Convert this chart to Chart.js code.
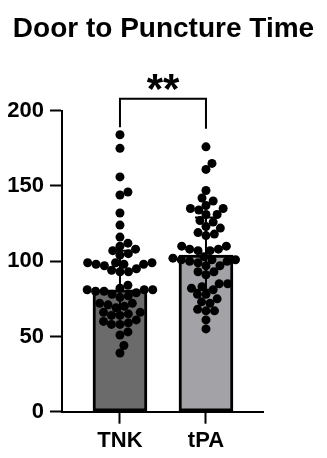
<!DOCTYPE html>
<html>
<head>
<meta charset="utf-8">
<script src="https://cdn.jsdelivr.net/npm/chart.js@4.4.1/dist/chart.umd.min.js"></script>
<style>
  html, body { margin: 0; padding: 0; background: #fff; }
</style>
</head>
<body>
<canvas id="chart" width="327" height="458"></canvas>
<script>
const categories = ['TNK', 'tPA'];
const barValues = [81, 104];   // median
const errLow = [65, 81];       // 25th percentile
const errHigh = [107, 129];    // 75th percentile
const yTicks = [0, 50, 100, 150, 200];
const sigLabel = '**';

const tnkPoints = [184, 175, 156, 146, 144, 132, 124, 116, 112, 110, 108, 107, 105, 104,
  99, 99, 98, 98, 99, 97, 98, 95, 94, 93, 93, 84, 82, 81, 81, 80, 81, 80, 79, 78, 77, 76,
  71, 72, 70, 72, 69, 64, 66, 66, 65, 64, 58, 58, 60, 61, 59, 53, 51, 44, 39];
const tpaPoints = [176, 165, 161, 147, 142, 140, 137, 135, 135, 134, 131, 131, 127, 126,
  123, 122, 119, 118, 117, 110, 110, 108, 108, 107, 107, 103, 102, 101, 100, 97, 97, 101,
  100, 99, 101, 93, 91, 93, 85, 85, 83, 81, 82, 78, 78, 75, 72, 73, 68, 67, 67, 61, 55];

const FONT = '"Liberation Sans", Arial, sans-serif';

// lay the dots out as a beeswarm around the category centre
function swarm(values, center, xScale, yScale, diameter) {
  const placed = [];
  const cx = xScale.getPixelForValue(center);
  return values.slice().sort((a, b) => a - b).map(v => {
    const py = yScale.getPixelForValue(v);
    const cands = [0];
    placed.forEach(p => {
      const dy = Math.abs(p.py - py);
      if (dy < diameter) {
        const dx = Math.sqrt(diameter * diameter - dy * dy);
        cands.push(p.dx + dx, p.dx - dx);
      }
    });
    cands.sort((a, b) => Math.abs(a) - Math.abs(b));
    const best = cands.find(c =>
      placed.every(p => (p.dx - c) ** 2 + (p.py - py) ** 2 >= diameter * diameter - 0.01));
    placed.push({ dx: best, py });
    return { x: xScale.getValueForPixel(cx + best), y: v };
  });
}

const errorBarPlugin = {
  id: 'errorBars',
  beforeDatasetDraw(chart, args) {
    if (args.index !== 1) return;
    const { ctx, scales: { x, y } } = chart;
    ctx.save();
    ctx.strokeStyle = '#000';
    ctx.lineWidth = 2;
    categories.forEach((c, i) => {
      const px = x.getPixelForValue(i);
      const top = y.getPixelForValue(errHigh[i]);
      const bot = y.getPixelForValue(errLow[i]);
      ctx.beginPath();
      ctx.moveTo(px, top); ctx.lineTo(px, bot);
      ctx.moveTo(px - 11, top); ctx.lineTo(px + 11, top);
      ctx.moveTo(px - 11, bot); ctx.lineTo(px + 11, bot);
      ctx.stroke();
    });
    ctx.restore();
  }
};

const sigPlugin = {
  id: 'sig',
  afterDraw(chart) {
    const { ctx, scales: { x, y } } = chart;
    const x0 = x.getPixelForValue(0), x1 = x.getPixelForValue(1);
    const yTop = y.getPixelForValue(208);
    const yLeft = y.getPixelForValue(189);
    const yRight = y.getPixelForValue(188);
    ctx.save();
    ctx.strokeStyle = '#000';
    ctx.lineWidth = 2;
    ctx.beginPath();
    ctx.moveTo(x0, yLeft); ctx.lineTo(x0, yTop); ctx.lineTo(x1, yTop); ctx.lineTo(x1, yRight);
    ctx.stroke();
    ctx.fillStyle = '#000';
    ctx.font = 'bold 42px ' + FONT;
    ctx.textAlign = 'center';
    ctx.textBaseline = 'alphabetic';
    ctx.fillText(sigLabel, (x0 + x1) / 2, yTop + 4);
    ctx.restore();
  }
};

const axisGrid = { drawOnChartArea: false, offset: false, tickLength: 12, tickColor: '#000', tickWidth: 2 };
const axisBorder = { color: '#000', width: 2 };

const chart = new Chart(document.getElementById('chart'), {
  type: 'bar',
  data: {
    datasets: [
      {
        type: 'bar',
        order: 2,
        data: categories.map((c, i) => ({ x: i, y: barValues[i] })),
        backgroundColor: ['#6b6b6b', '#a3a3a7'],
        borderColor: '#000',
        borderWidth: 3,
        borderSkipped: false,
        barThickness: 54
      },
      {
        type: 'scatter',
        order: 1,
        data: [],
        pointRadius: 4.5,
        pointHoverRadius: 4.5,
        backgroundColor: '#000',
        borderWidth: 0
      }
    ]
  },
  options: {
    responsive: false,
    animation: false,
    devicePixelRatio: 1,
    layout: { padding: 0 },
    plugins: {
      legend: { display: false },
      tooltip: { enabled: false },
      title: {
        display: true,
        text: 'Door to Puncture Time',
        color: '#000',
        font: { family: FONT, size: 28, weight: 'bold' },
        padding: { top: 12.2, bottom: 64.9 }
      }
    },
    scales: {
      x: {
        type: 'linear',
        offset: false,
        min: -0.674,
        max: 1.663,
        afterBuildTicks: (s) => { s.ticks = categories.map((c, i) => ({ value: i })); },
        ticks: {
          callback: (v) => categories[v],
          color: '#000',
          font: { family: FONT, size: 22, weight: 'bold' },
          padding: 4,
          autoSkip: false,
          maxRotation: 0
        },
        grid: axisGrid,
        border: axisBorder,
        afterFit: (s) => { s.height = 46.3; }
      },
      y: {
        min: 0,
        max: 200,
        afterBuildTicks: (s) => { s.ticks = yTicks.map(v => ({ value: v })); },
        ticks: {
          color: '#000',
          font: { family: FONT, size: 22, weight: 'bold' },
          padding: 6
        },
        grid: axisGrid,
        border: axisBorder,
        afterFit: (s) => { s.width = 62; }
      },
      // empty right-hand scale that only reserves the blank margin
      yRight: {
        position: 'right',
        ticks: { display: false },
        grid: { display: false },
        border: { display: false },
        afterFit: (s) => { s.width = 64; }
      }
    }
  },
  plugins: [errorBarPlugin, sigPlugin]
});

chart.data.datasets[1].data = [
  ...swarm(tnkPoints, 0, chart.scales.x, chart.scales.y, 8.5),
  ...swarm(tpaPoints, 1, chart.scales.x, chart.scales.y, 8.5)
];
chart.update('none');
</script>
</body>
</html>
